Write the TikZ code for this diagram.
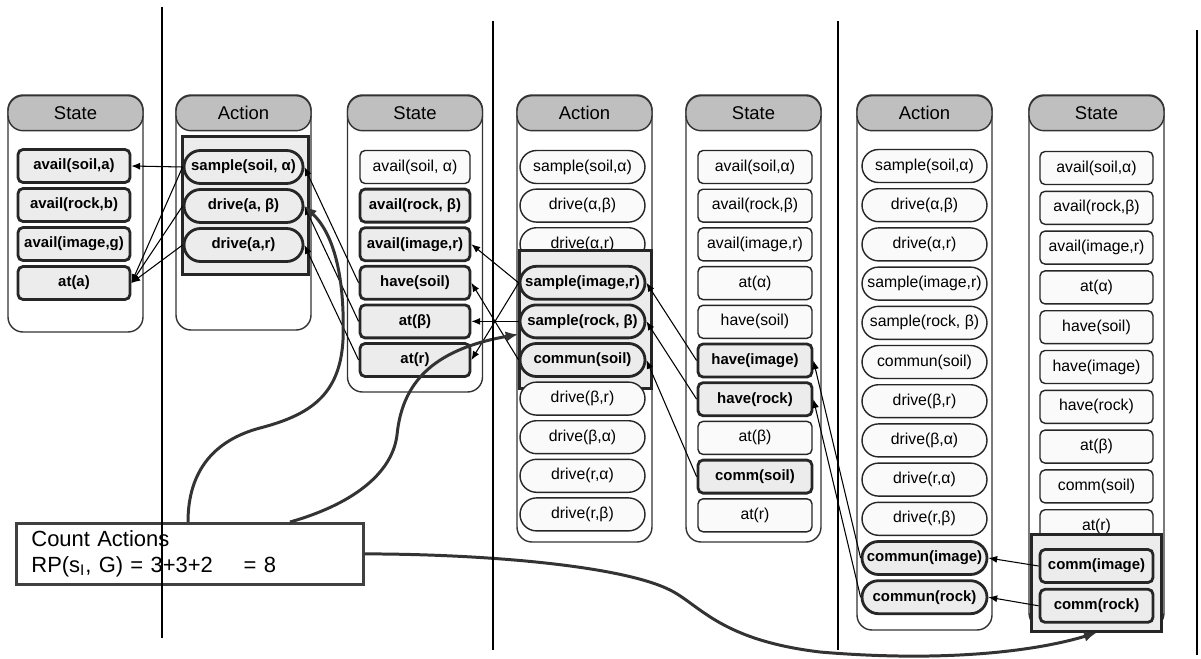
\documentclass[tikz,border=0pt]{standalone}
\usepackage{fontspec}
\setmainfont{Liberation Sans}
\usetikzlibrary{arrows.meta,calc}

\tikzset{
    colbox/.style={draw=black!80, line width=0.8pt, rounded corners=0.3cm, fill=white},
    colhead/.style={draw=black!80, line width=0.8pt, rounded corners=0.3cm, fill=gray!50,
        minimum width=2.7cm, minimum height=0.7cm, anchor=north, font=\fontsize{10.5}{12}\selectfont},
    fact/.style={draw=black!85, line width=0.8pt, rounded corners=0.1cm, fill=gray!4,
        minimum width=2.24cm, minimum height=0.66cm, inner xsep=1pt, font=\fontsize{9}{10}\selectfont},
    factrp/.style={fact, line width=1.6pt, fill=gray!15, font=\fontsize{8.5}{10}\selectfont\bfseries},
    act/.style={fact, rounded corners=0.33cm, minimum width=2.5cm},
    actrp/.style={factrp, rounded corners=0.33cm, minimum width=2.5cm},
    rpbox/.style={draw=black!85, line width=1.6pt, fill=gray!15, anchor=north west},
    link/.style={-{Latex[length=5pt,width=4pt]}, black, line width=0.6pt},
    countbox/.style={draw=black!75, line width=1.6pt, fill=white, anchor=north west,
        text width=6.34cm, minimum height=1.22cm, inner xsep=0.3cm, align=left,
        font=\fontsize{12.5}{14.7}\selectfont},
    countline/.style={-{Latex[length=7pt,width=6pt]}, black!80, line width=1.7pt},
    sepline/.style={black, line width=1.5pt},
}

\begin{document}
\begin{tikzpicture}[x=0.02cm, y=-0.02cm]
    \useasboundingbox (0,0) rectangle (1201,659);

    % Layer frames with their headers
    \foreach \xm/\yb/\ttl [count=\c] in {75.5/332/State, 243.5/330/Action, 415/392/State,
            584.5/542/Action, 753.5/542/State, 924.5/630/Action, 1096.5/628/State} {
        \draw[colbox] ({\xm-67.5},95) rectangle ({\xm+67.5},\yb);
        \node[colhead] (head\c) at (\xm,95) {\ttl};
    }

    % State layer 0
    \foreach \txt/\sty [count=\i] in {{avail(soil,a)}/factrp, {avail(rock,b)}/factrp,
            {avail(image,g)}/factrp, {at(a)}/factrp}
        \node[\sty] (s0-\i) at (74, {166+39*(\i-1)}) {\txt};

    % Action layer 1
    \node[rpbox, minimum width=2.52cm, minimum height=2.76cm] (rp1) at (181,135) {};
    \foreach \txt/\sty [count=\i] in {{sample(soil, α)}/actrp, {drive(a, β)}/actrp, {drive(a,r)}/actrp}
        \node[\sty, minimum width=2.38cm] (a1-\i) at (243.5, {167+39*(\i-1)}) {\txt};

    % State layer 1
    \foreach \txt/\sty [count=\i] in {{avail(soil, α)}/fact, {avail(rock, β)}/factrp,
            {avail(image,r)}/factrp, {have(soil)}/factrp, {at(β)}/factrp, {at(r)}/factrp}
        \node[\sty, minimum width=2.2cm] (s1-\i) at (415, {167+38.6*(\i-1)}) {\txt};

    % Action layer 2
    \foreach \txt/\sty [count=\i] in {{sample(soil,α)}/act, {drive(α,β)}/act, {drive(α,r)}/act}
        \node[\sty] (a2-\i) at (582.5, {167+38.6*(\i-1)}) {\txt};
    \node[rpbox, minimum width=2.64cm, minimum height=2.76cm] (rp2) at (518,249) {};
    \foreach \txt/\sty [count=\i from 4] in {{sample(image,r)}/actrp, {sample(rock, β)}/actrp,
            {commun(soil)}/actrp, {drive(β,r)}/act, {drive(β,α)}/act, {drive(r,α)}/act, {drive(r,β)}/act}
        \node[\sty] (a2-\i) at (582.5, {167+38.6*(\i-1)}) {\txt};

    % State layer 2
    \foreach \txt/\sty [count=\i] in {{avail(soil,α)}/fact, {avail(rock,β)}/fact, {avail(image,r)}/fact,
            {at(α)}/fact, {have(soil)}/fact, {have(image)}/factrp, {have(rock)}/factrp,
            {at(β)}/fact, {comm(soil)}/factrp, {at(r)}/fact}
        \node[\sty, minimum width=2.28cm] (s2-\i) at (755, {167+38.7*(\i-1)}) {\txt};

    % Action layer 3
    \foreach \txt/\sty [count=\i] in {{sample(soil,α)}/act, {drive(α,β)}/act, {drive(α,r)}/act,
            {sample(image,r)}/act, {sample(rock, β)}/act, {commun(soil)}/act, {drive(β,r)}/act,
            {drive(β,α)}/act, {drive(r,α)}/act, {drive(r,β)}/act, {commun(image)}/actrp, {commun(rock)}/actrp}
        \node[\sty] (a3-\i) at (924.5, {166+39.2*(\i-1)}) {\txt};

    % State layer 3 (goal)
    \foreach \txt/\sty [count=\i] in {{avail(soil,α)}/fact, {avail(rock,β)}/fact, {avail(image,r)}/fact,
            {at(α)}/fact, {have(soil)}/fact, {have(image)}/fact, {have(rock)}/fact,
            {at(β)}/fact, {comm(soil)}/fact, {at(r)}/fact}
        \node[\sty, minimum width=2.26cm] (s3-\i) at (1096.5, {168+39.8*(\i-1)}) {\txt};
    \node[rpbox, minimum width=2.6cm, minimum height=1.94cm] (rp3) at (1030,533) {};
    \foreach \txt/\sty [count=\i from 11] in {{comm(image)}/factrp, {comm(rock)}/factrp}
        \node[\sty, minimum width=2.26cm] (s3-\i) at (1096.5, {168+39.8*(\i-1)}) {\txt};

    % Back links, one layer at a time
    \foreach \from/\to in {a1-1/s0-1, a1-1/s0-4, a1-2/s0-4, a1-3/s0-4,
            s1-4/a1-1, s1-5/a1-2, s1-6/a1-3,
            a2-4/s1-3, a2-4/s1-6, a2-5/s1-5, a2-6/s1-4,
            s2-6/a2-4, s2-7/a2-5, s2-9/a2-6,
            a3-11/s2-6, a3-12/s2-7,
            s3-11/a3-11, s3-12/a3-12}
        \draw[link] (\from.west) -- (\to.east);

    % Count box and its curves
    \node[countbox] (count) at (15,522) {Count Actions\\RP(s\textsubscript{I}, G) = 3+3+2\hspace{1.4em}= 8};
    \coordinate (ca) at ($(count.north west)+(173,0)$);
    \coordinate (cb) at ($(count.north west)+(275,0)$);
    \draw[countline] (ca) .. controls (188,470) and (215,440) .. (260,428)
        .. controls (310,415) and (340,395) .. (343,340)
        .. controls (345,280) and (335,235) .. (a1-2.east);
    \draw[countline] (cb) .. controls (350,505) and (392,475) .. (397,435)
        .. controls (402,385) and (430,350) .. ($(rp2.west)+(0,15)$);
    \draw[countline] (count.east) .. controls (480,554) and (620,565) .. (670,590)
        .. controls (700,605) and (720,640) .. (820,652)
        .. controls (950,663) and (1040,650) .. (rp3.south);

    % Separators between planning steps
    \draw[sepline] (162,7) -- (162,638);
    \draw[sepline] (493,21) -- (493,650);
    \draw[sepline] (838,21) -- (838,650);
    \draw[sepline] (1197,30) -- (1197,655);
\end{tikzpicture}
\end{document}
